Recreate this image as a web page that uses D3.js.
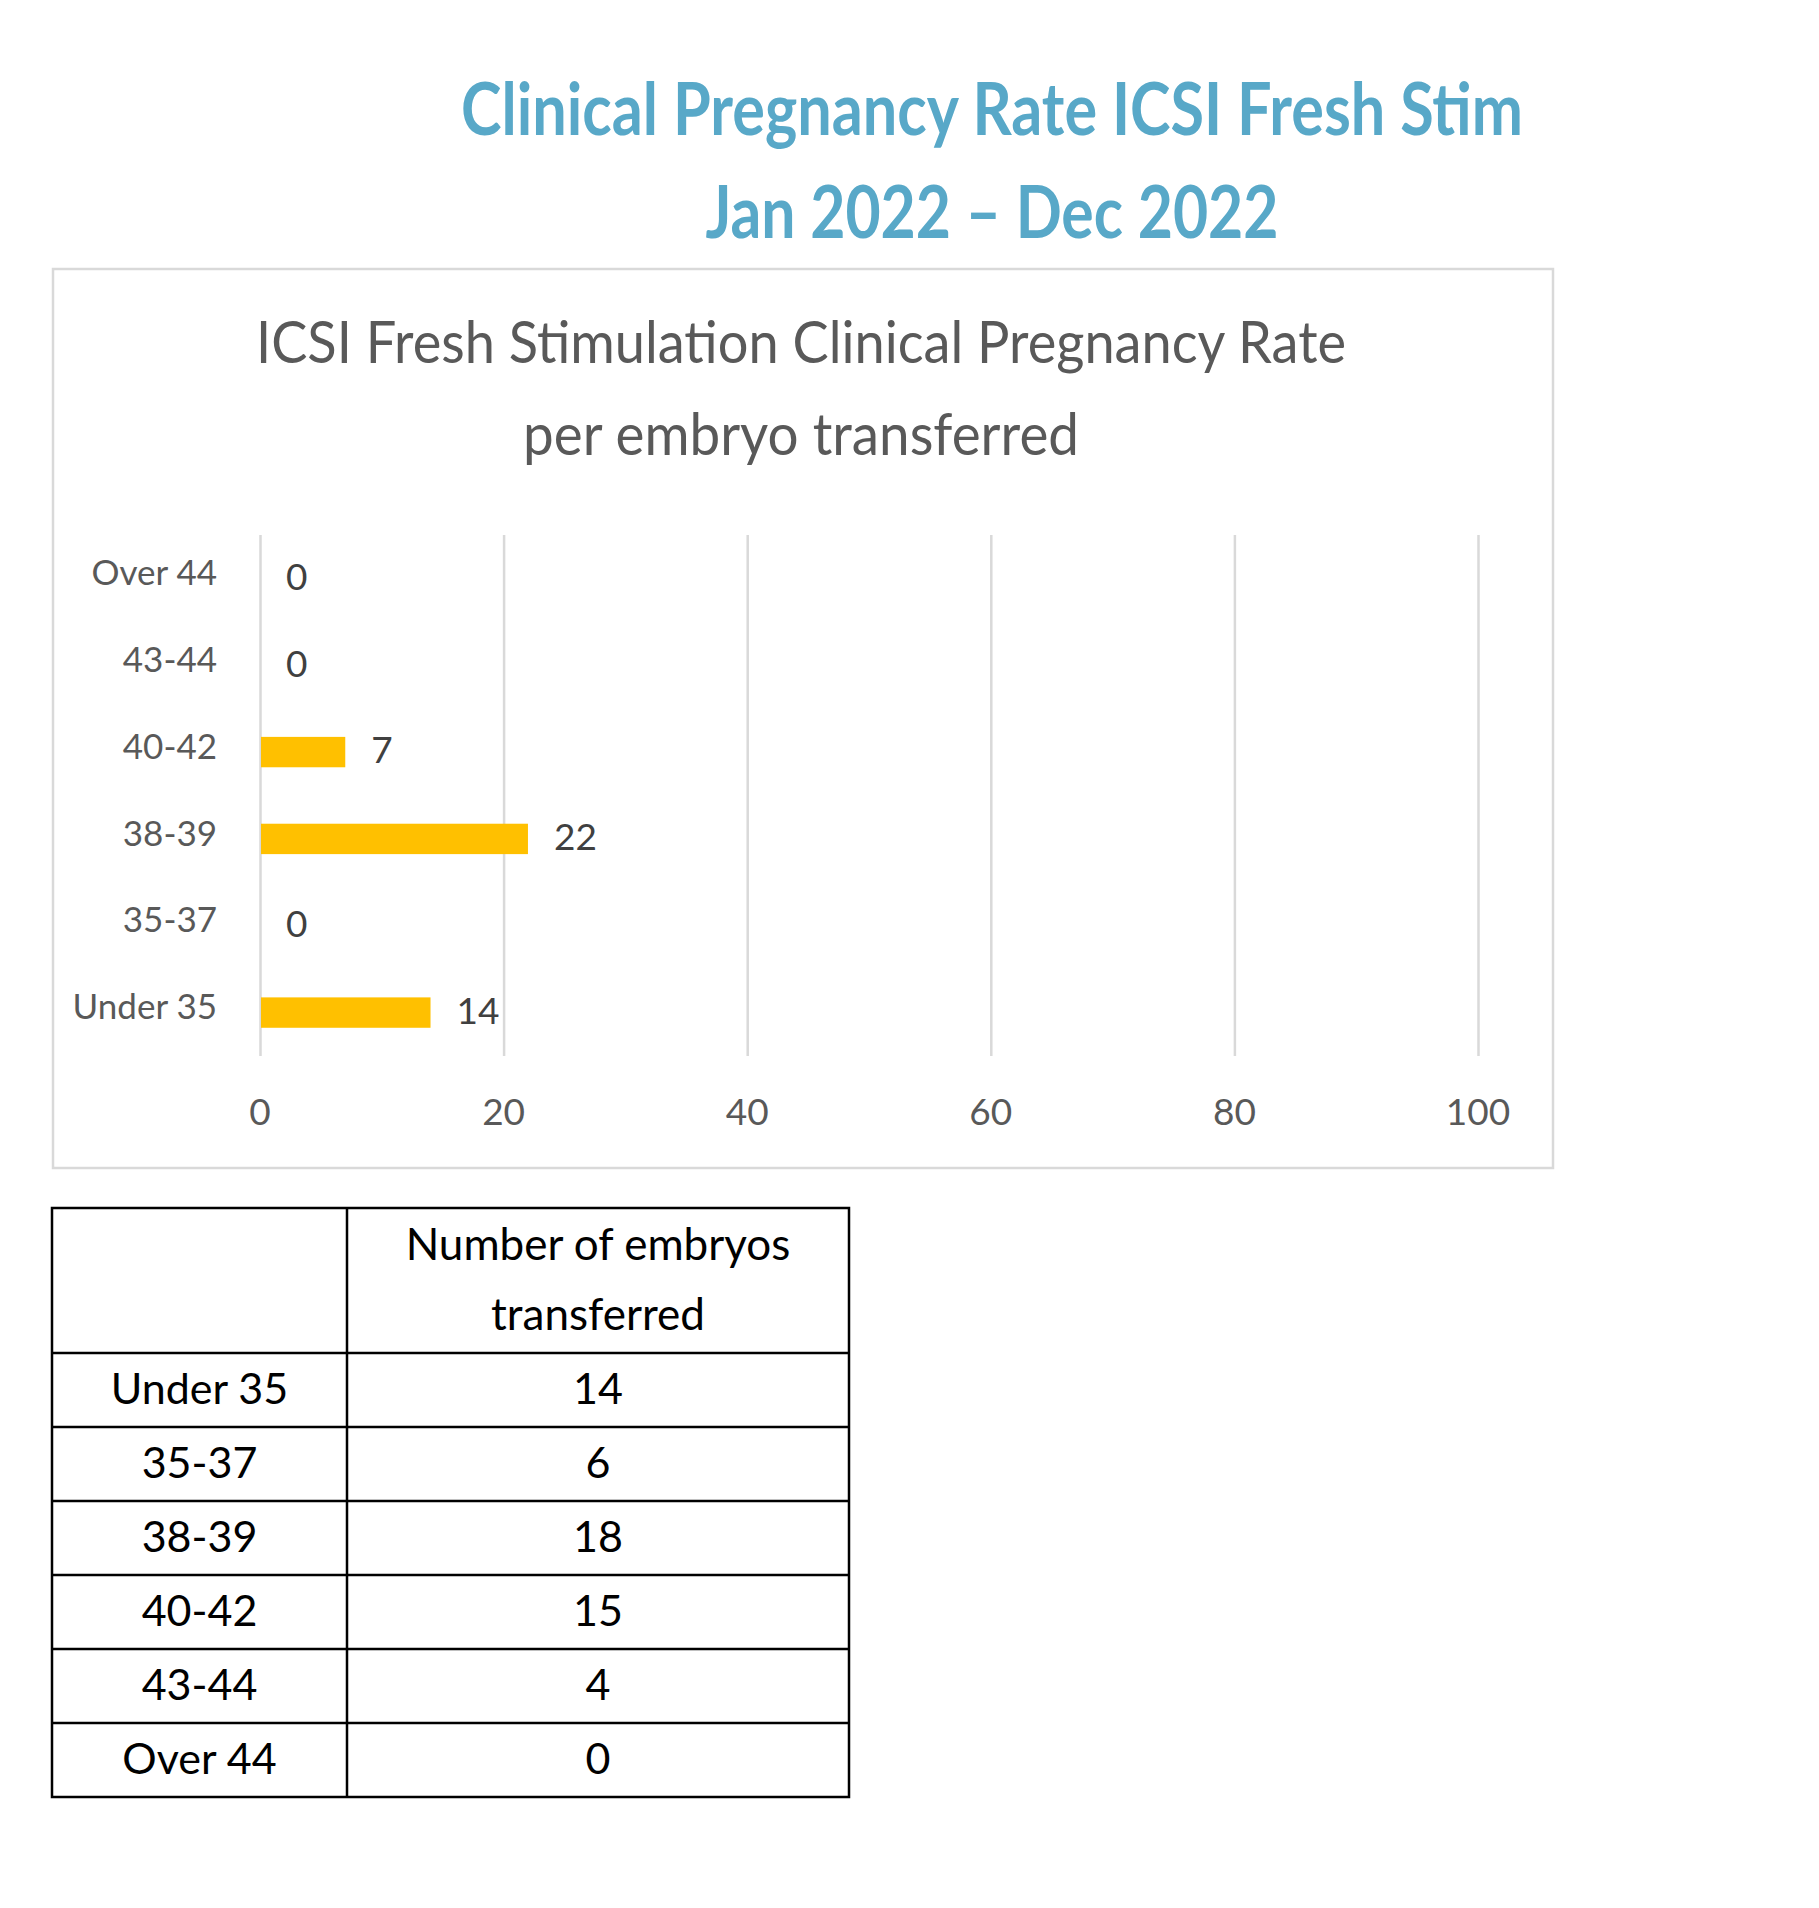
<!DOCTYPE html>
<html>
<head>
<meta charset="utf-8">
<script src="https://cdn.jsdelivr.net/npm/d3@7.9.0/dist/d3.min.js"></script>
<style>
  body { margin: 0; background: #fff; }
  svg text { font-family: Lato, "Open Sans", sans-serif; }
</style>
</head>
<body>
<svg id="page" width="1819" height="1908"></svg>
<script>
// chart data
const ageGroups = ["Under 35", "35-37", "38-39", "40-42", "43-44", "Over 44"];
const pregnancyRate = [14, 0, 22, 7, 0, 0];
const xTicks = [0, 20, 40, 60, 80, 100];

// table data
const tableHeader = ["Number of embryos", "transferred"];
const embryosTransferred = [14, 6, 18, 15, 4, 0];

const pageTitle = ["Clinical Pregnancy Rate ICSI Fresh Stim", "Jan 2022 \u2013 Dec 2022"];
const chartTitle = ["ICSI Fresh Stimulation Clinical Pregnancy Rate", "per embryo transferred"];

const svg = d3.select("#page");
const grey = "#595959";

// page title
svg.append("g").selectAll("text")
  .data(pageTitle)
  .join("text")
  .attr("x", 992)
  .attr("y", (d, i) => [135, 238][i])
  .attr("text-anchor", "middle")
  .attr("font-size", 72)
  .attr("font-weight", "bold")
  .attr("fill", "#58a8c8")
  .attr("textLength", (d, i) => [1062, 573][i])
  .attr("lengthAdjust", "spacingAndGlyphs")
  .text((d) => d);

// chart frame
svg.append("rect")
  .attr("x", 53).attr("y", 269)
  .attr("width", 1500).attr("height", 899)
  .attr("fill", "#fff")
  .attr("stroke", "#d9d9d9")
  .attr("stroke-width", 2.5);

svg.append("g").selectAll("text")
  .data(chartTitle)
  .join("text")
  .attr("x", 801)
  .attr("y", (d, i) => [363, 455][i])
  .attr("text-anchor", "middle")
  .attr("font-size", 58)
  .attr("fill", grey)
  .attr("textLength", (d, i) => [1090, 556][i])
  .attr("lengthAdjust", "spacingAndGlyphs")
  .text((d) => d);

const plot = { left: 260, right: 1478, top: 535, bottom: 1056 };

const x = d3.scaleLinear().domain([0, 100]).range([plot.left, plot.right]);
const y = d3.scaleBand()
  .domain(ageGroups.slice().reverse())
  .range([plot.top, plot.bottom])
  .paddingInner(0.65)
  .paddingOuter(0.325);

// gridlines
const grid = svg.append("g")
  .attr("transform", `translate(0, ${plot.bottom})`)
  .call(d3.axisBottom(x).tickValues(xTicks).tickSize(-(plot.bottom - plot.top)).tickFormat(""));
grid.select(".domain").remove();
grid.selectAll("line").attr("stroke", "#d9d9d9").attr("stroke-width", 2.5);

// tick labels
svg.append("g").selectAll("text")
  .data(xTicks)
  .join("text")
  .attr("x", (d) => x(d))
  .attr("y", 1112)
  .attr("dy", "0.36em")
  .attr("text-anchor", "middle")
  .attr("font-size", 37)
  .attr("fill", grey)
  .text((d) => d);

const rows = ageGroups.map((g, i) => ({ group: g, rate: pregnancyRate[i] }));

// bars
svg.append("g").selectAll("rect")
  .data(rows)
  .join("rect")
  .attr("x", x(0) + 1)
  .attr("y", (d) => y(d.group))
  .attr("width", (d) => Math.max(0, x(d.rate) - x(0) - 1))
  .attr("height", y.bandwidth())
  .attr("fill", "#ffc000");

// category labels
svg.append("g").selectAll("text")
  .data(rows)
  .join("text")
  .attr("x", 217)
  .attr("y", (d) => y(d.group) + y.bandwidth() / 2 - 6)
  .attr("dy", "0.36em")
  .attr("text-anchor", "end")
  .attr("font-size", 35)
  .attr("fill", grey)
  .text((d) => d.group);

// value labels
svg.append("g").selectAll("text")
  .data(rows)
  .join("text")
  .attr("x", (d) => x(d.rate) + 26)
  .attr("y", (d) => y(d.group) + y.bandwidth() / 2 - 2)
  .attr("dy", "0.36em")
  .attr("font-size", 37)
  .attr("fill", "#404040")
  .text((d) => d.rate);

// table
const table = { left: 52, mid: 347, right: 849, top: 1208, headBottom: 1353, rowH: 74 };
const tg = svg.append("g");
const tableRows = ageGroups.map((g, i) => ({ group: g, n: embryosTransferred[i] }));
const rowY = d3.scaleLinear().domain([0, tableRows.length]).range([table.headBottom, table.headBottom + table.rowH * tableRows.length]);

tg.append("rect")
  .attr("x", table.left).attr("y", table.top)
  .attr("width", table.right - table.left)
  .attr("height", rowY(tableRows.length) - table.top)
  .attr("fill", "none")
  .attr("stroke", "#000")
  .attr("stroke-width", 2.5);

tg.append("line")
  .attr("x1", table.mid).attr("x2", table.mid)
  .attr("y1", table.top).attr("y2", rowY(tableRows.length))
  .attr("stroke", "#000").attr("stroke-width", 2.5);

tg.selectAll("line.row")
  .data(d3.range(tableRows.length))
  .join("line")
  .attr("class", "row")
  .attr("x1", table.left).attr("x2", table.right)
  .attr("y1", (i) => rowY(i)).attr("y2", (i) => rowY(i))
  .attr("stroke", "#000").attr("stroke-width", 2.5);

tg.selectAll("text.head")
  .data(tableHeader)
  .join("text")
  .attr("class", "head")
  .attr("x", (table.mid + table.right) / 2)
  .attr("y", (d, i) => [1260, 1330][i])
  .attr("text-anchor", "middle")
  .attr("font-size", 44)
  .attr("fill", "#000")
  .text((d) => d);

tg.selectAll("text.age")
  .data(tableRows)
  .join("text")
  .attr("class", "age")
  .attr("x", (table.left + table.mid) / 2)
  .attr("y", (d, i) => rowY(i) + table.rowH / 2 + 14)
  .attr("text-anchor", "middle")
  .attr("font-size", 43)
  .attr("fill", "#000")
  .text((d) => d.group);

tg.selectAll("text.num")
  .data(tableRows)
  .join("text")
  .attr("class", "num")
  .attr("x", (table.mid + table.right) / 2)
  .attr("y", (d, i) => rowY(i) + table.rowH / 2 + 14)
  .attr("text-anchor", "middle")
  .attr("font-size", 43)
  .attr("fill", "#000")
  .text((d) => d.n);
</script>
</body>
</html>
